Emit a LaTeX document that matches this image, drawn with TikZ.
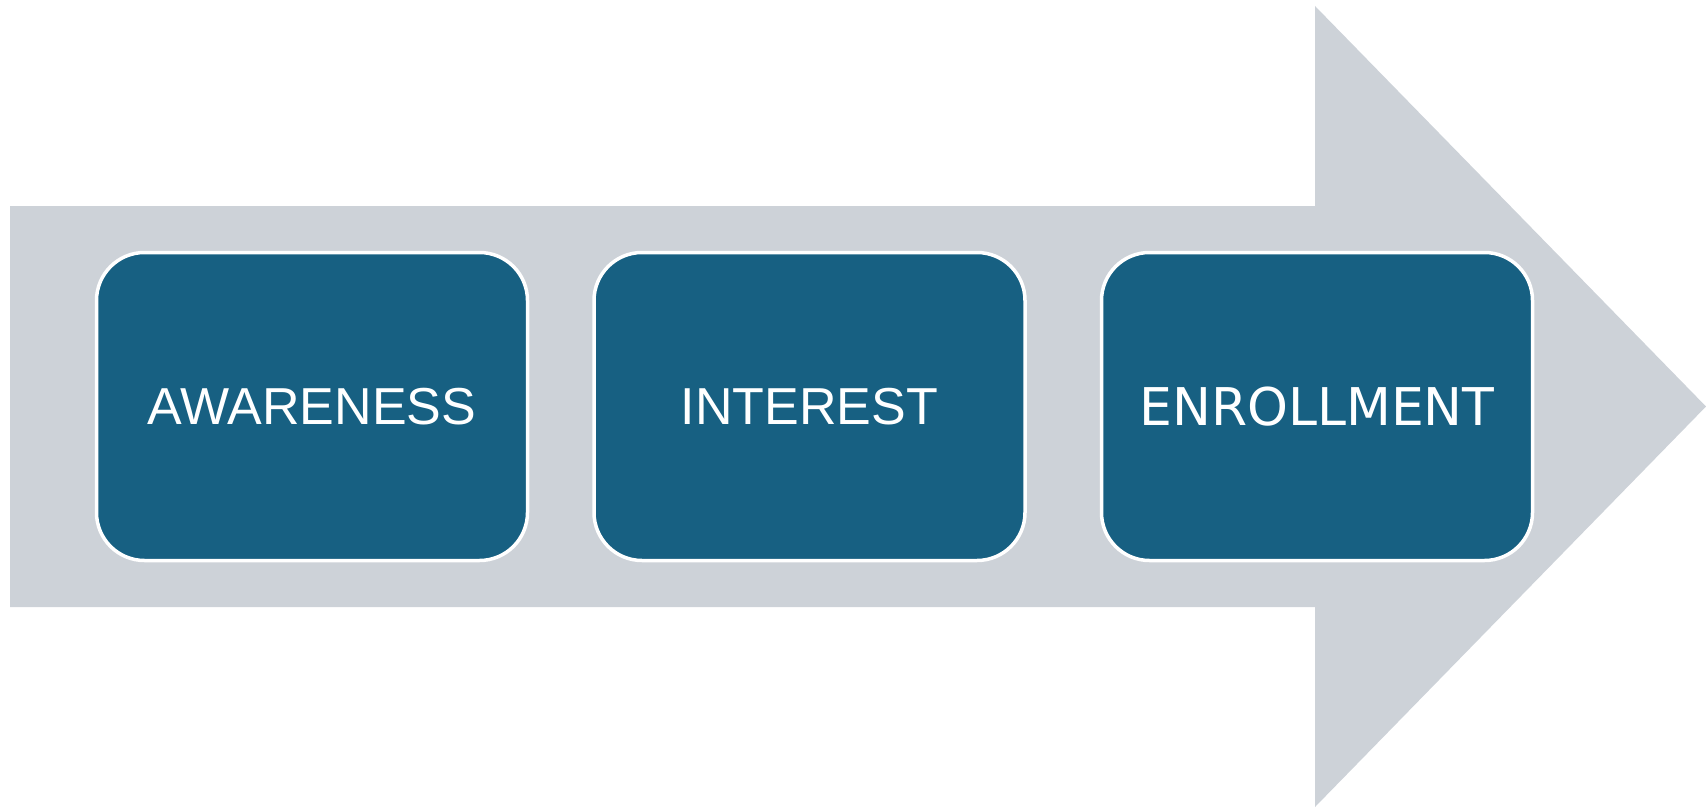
\documentclass[tikz,border=0pt]{standalone}
\usepackage{fontspec}
\setmainfont{Liberation Sans}
\newfontfamily\dejavu{DejaVu Sans}
\definecolor{bandgray}{RGB}{205,210,216}
\definecolor{stageblue}{RGB}{23,96,130}
\begin{document}
\begin{tikzpicture}[x=1pt,y=-1pt,
  stagebox/.style={draw=white, line width=3.5pt, fill=stageblue, rounded corners=48pt,
    minimum width=431pt, minimum height=308pt, inner sep=0pt, outer sep=0pt,
    text=white, font=\fontsize{52}{60}\selectfont},
  bandarrow/.style={fill=bandgray, draw=none}]
\useasboundingbox (0,0) rectangle (1706,808);
\fill[bandarrow] (10,206) -- (1315,206) -- (1315,6) -- (1706,406.5) -- (1315,807) -- (1315,607) -- (10,607) -- cycle;
\node[stagebox] (awareness) at (312,406.5) {AWARENESS};
\node[stagebox] (interest) at (809.5,406.5) {INTEREST};
\node[stagebox, font=\dejavu\fontsize{52}{60}\selectfont] (enrollment) at (1317,406.5) {ENROLLMENT};
\end{tikzpicture}
\end{document}
